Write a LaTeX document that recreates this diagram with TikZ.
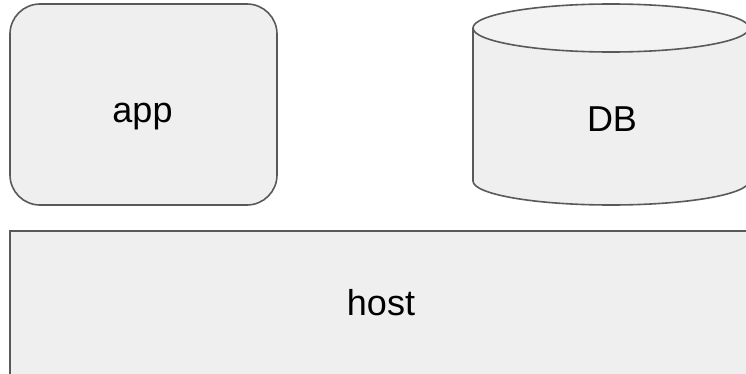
\documentclass[tikz,border=0pt]{standalone}
\usepackage{fontspec}
\setmainfont{Liberation Sans}
\definecolor{boxfill}{HTML}{EFEFEF}
\definecolor{topfill}{HTML}{F3F3F3}
\definecolor{edge}{HTML}{595959}
\begin{document}
\begin{tikzpicture}[x=1pt,y=1pt,
  shapeline/.style={draw=edge,line width=1.6pt},
  label/.style={inner sep=0pt,anchor=base,font=\fontsize{36}{43}\selectfont,text=black}]
\useasboundingbox (0,0) rectangle (746,373);
\clip (0,0) rectangle (746,373);
% app
\node[shapeline,fill=boxfill,rounded corners=30pt,minimum width=267pt,minimum height=201pt,inner sep=0pt] (app) at (143.5,268.5) {};
\node[label] (apptext) at (142.5,251) {app};
% DB cylinder
\fill[boxfill] (473,345) -- (473,192) arc[start angle=180,end angle=360,x radius=138pt,y radius=24pt] -- (749,345) -- cycle;
\draw[edge,line width=1.6pt] (473,345) -- (473,192) arc[start angle=180,end angle=360,x radius=138pt,y radius=24pt] -- (749,345);
\draw[shapeline,fill=topfill] (611,345) ellipse[x radius=138pt,y radius=24pt];
\node[label] (db) at (612,242) {DB};
% host
\node[shapeline,fill=boxfill,minimum width=742pt,minimum height=143.5pt,inner sep=0pt] (host) at (381,70.25) {};
\node[label] (hosttext) at (381,58) {host};
\end{tikzpicture}
\end{document}
